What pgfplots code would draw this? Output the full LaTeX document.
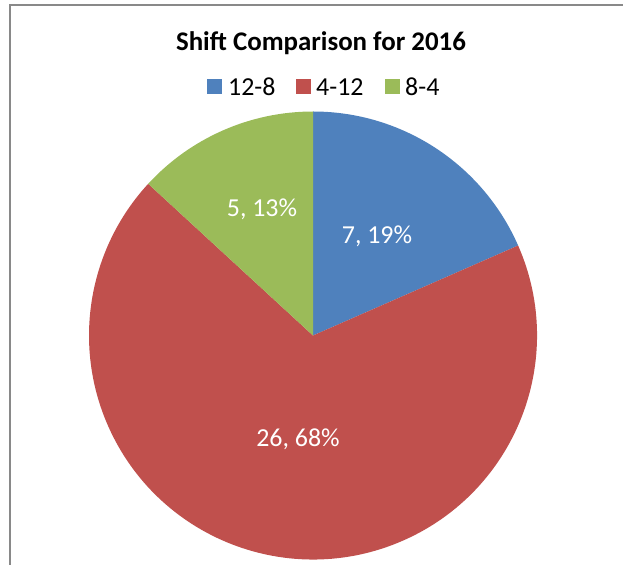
\documentclass[border=0pt]{standalone}
\usepackage{pgfplots}
\pgfplotsset{compat=1.18}
\usepackage{pgfplotstable}
\usepackage{fontspec}
\setmainfont{Carlito}

\definecolor{s128}{HTML}{4F81BD}
\definecolor{s412}{HTML}{C0504D}
\definecolor{s84}{HTML}{9BBB59}
\definecolor{frame}{HTML}{898989}

% shift counts for 2016
\pgfplotstableread{
shift value
12-8 7
4-12 26
8-4 5
}\shiftdata

\begin{document}
\begin{tikzpicture}
\path[use as bounding box] (0,0) rectangle (623bp,565bp);
% slice angles, clockwise from 12 o'clock
\pgfplotstablegetelem{0}{value}\of\shiftdata \let\va\pgfplotsretval
\pgfplotstablegetelem{1}{value}\of\shiftdata \let\vb\pgfplotsretval
\pgfplotstablegetelem{2}{value}\of\shiftdata \let\vc\pgfplotsretval
\pgfmathsetmacro\tot{\va+\vb+\vc}
\pgfmathsetmacro\angA{90-360*\va/\tot}
\pgfmathsetmacro\angB{\angA-360*\vb/\tot}
\pgfmathsetmacro\angC{\angB-360*\vc/\tot}

\begin{axis}[
  at={(0,0)}, anchor=south west,
  width=623bp, height=565bp, scale only axis,
  xmin=0, xmax=623, ymin=0, ymax=565,
  hide axis, clip=false,
]
% chart frame
\draw[frame, line width=1.5bp] (axis cs:10,0) -- (axis cs:10,560) -- (axis cs:623,560);

% pie
\fill[s128] (axis cs:313,229.5) -- ++(90:224bp)
  arc[start angle=90, end angle=\angA, radius=224bp] -- cycle;
\fill[s412] (axis cs:313,229.5) -- ++(\angA:224bp)
  arc[start angle=\angA, end angle=\angB, radius=224bp] -- cycle;
\fill[s84] (axis cs:313,229.5) -- ++(\angB:224bp)
  arc[start angle=\angB, end angle=\angC, radius=224bp] -- cycle;

% data labels
\node[white, anchor=base, font=\fontsize{26}{30}\selectfont] at (axis cs:377,321) {7, 19\%};
\node[white, anchor=base, font=\fontsize{26}{30}\selectfont] at (axis cs:298,118) {26, 68\%};
\node[white, anchor=base, font=\fontsize{26}{30}\selectfont] at (axis cs:262,348) {5, 13\%};

% title
\node[anchor=base, font=\fontsize{27}{32}\selectfont\bfseries] at (axis cs:321,514) {Shift Comparison for 2016};

% legend
\fill[s128] (axis cs:207,471) rectangle (axis cs:222,486);
\node[anchor=base west, inner sep=0pt, font=\fontsize{26}{30}\selectfont] at (axis cs:228,469) {12-8};
\fill[s412] (axis cs:296,471) rectangle (axis cs:311,486);
\node[anchor=base west, inner sep=0pt, font=\fontsize{26}{30}\selectfont] at (axis cs:316,469) {4-12};
\fill[s84] (axis cs:385,471) rectangle (axis cs:400,486);
\node[anchor=base west, inner sep=0pt, font=\fontsize{26}{30}\selectfont] at (axis cs:405,469) {8-4};
\end{axis}
\end{tikzpicture}
\end{document}
